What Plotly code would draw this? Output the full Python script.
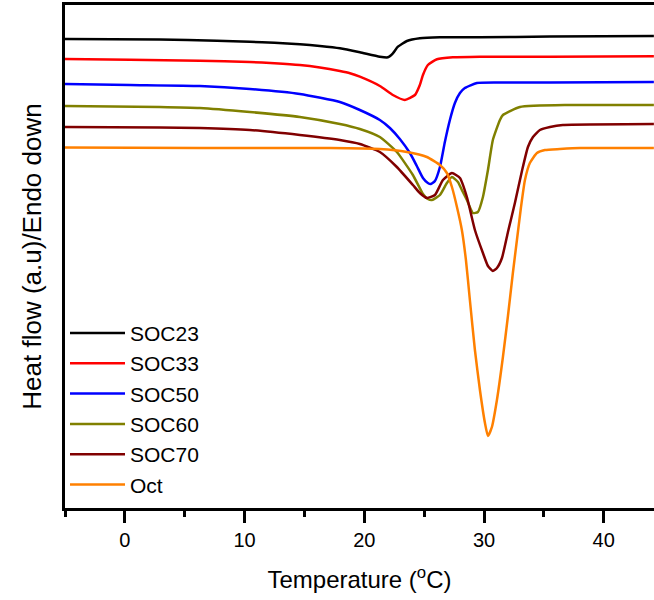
import plotly.graph_objects as go

# Temperature (°C) and heat flow (a.u.)
names = ["SOC23", "SOC33", "SOC50", "SOC60", "SOC70", "Oct"]
colors = ["#000000", "#FF0000", "#0000FF", "#808000", "#800000", "#FF8000"]

soc23_t = [-5.01, 2.92, 7.69, 10.44, 12.50, 14.62, 16.29, 17.96, 19.63, 21.30, 21.97, 22.39, 22.81, 23.56, 24.64, 26.32, 29.66, 35.51, 44.19]
soc23_h = [469, 468.5, 467.3, 466.3, 465.2, 463.8, 462.0, 459.7, 455.7, 451.3, 450.7, 454.7, 461.3, 467, 469.7, 470.7, 470.7, 471.5, 472]

soc33_t = [-5.01, 0.42, 6.27, 10.44, 12.50, 14.62, 16.29, 17.96, 18.80, 19.63, 21.30, 22.39, 23.39, 24.23, 24.64, 24.90, 25.31, 26.07, 27.40, 29.66, 35.51, 44.19]
soc33_h = [449, 448.3, 447.3, 446, 444.8, 443, 440.5, 437, 434.8, 431.3, 422, 413, 408, 413, 423, 433, 443, 448.7, 450.7, 451.3, 451.2, 451.7]

soc50_t = [-5.01, 0.42, 6.27, 10.44, 14.62, 17.96, 19.63, 21.30, 22.14, 22.97, 23.81, 24.39, 24.90, 25.31, 25.56, 25.90, 26.32, 26.73, 27.15, 27.57, 27.99, 28.40, 29.41, 31.33, 35.51, 44.19]
soc50_h = [424, 423, 422, 419, 414, 406, 398, 388, 380, 369, 355, 342, 330, 325, 324, 327, 341, 366, 388, 405, 415, 420, 425, 425.5, 425.5, 426]

soc60_t = [-5.01, 2.92, 6.27, 10.44, 14.62, 17.96, 19.63, 21.30, 22.72, 24.06, 24.90, 25.31, 25.65, 26.32, 26.90, 27.32, 27.82, 28.15, 28.57, 29.07, 29.49, 29.91, 30.33, 30.74, 31.33, 31.58, 33.00, 37.18, 44.19]
soc60_h = [402, 401, 400, 396, 391, 384, 379, 371, 356, 333, 314, 309, 308, 313, 325, 331, 326, 318, 308, 295, 296, 311, 338, 368, 388, 393, 401, 403, 403]

soc70_t = [-5.01, 2.92, 6.27, 10.44, 14.62, 17.96, 19.63, 21.30, 22.72, 24.06, 24.64, 25.23, 25.90, 26.57, 27.32, 27.99, 28.57, 29.24, 29.91, 30.33, 30.74, 31.08, 31.50, 32.00, 32.58, 33.17, 33.67, 34.09, 34.67, 35.51, 36.59, 44.19]
soc70_h = [381, 380.5, 380, 378, 373, 368, 364, 356, 341, 323, 315, 310, 313, 328, 335, 330, 311, 278, 255, 242, 237, 240, 250, 276, 305, 337, 361, 371, 378, 381, 383, 384]

oct_t = [-5.01, 6.27, 17.13, 21.30, 23.56, 25.23, 26.32, 26.90, 27.32, 27.74, 28.15, 28.49, 28.82, 29.24, 29.66, 30.08, 30.33, 30.66, 31.08, 31.58, 32.00, 32.41, 32.75, 33.08, 33.42, 33.83, 34.42, 35.09, 36.34, 38.01, 44.19]
oct_h = [360.5, 360, 360, 359, 356, 351, 343, 335, 321, 301, 278, 248, 208, 158, 118, 85, 72, 81, 108, 151, 192, 235, 268, 300, 328, 345, 355, 358, 359, 360, 360]

x_ticks = [0, 10, 20, 30, 40]

series = [
    (soc23_t, soc23_h), (soc33_t, soc33_h), (soc50_t, soc50_h),
    (soc60_t, soc60_h), (soc70_t, soc70_h), (oct_t, oct_h),
]

fig = go.Figure()
for name, color, (t, h) in zip(names, colors, series):
    fig.add_trace(go.Scatter(
        x=t, y=h, mode="lines", name=name,
        line=dict(color=color, width=2.5, shape="spline", smoothing=0.5),
    ))

font_family = "Liberation Sans, Arial, sans-serif"

fig.update_layout(
    width=654, height=600,
    margin=dict(l=65, r=0, t=5, b=92, autoexpand=False),
    paper_bgcolor="white", plot_bgcolor="white",
    font=dict(family=font_family, color="black"),
    showlegend=True,
    legend=dict(
        x=0.0, y=0.388, xanchor="left", yanchor="top",
        bgcolor="rgba(0,0,0,0)", borderwidth=0,
        font=dict(size=21, family=font_family),
        tracegroupgap=0, itemwidth=55,
    ),
    xaxis=dict(
        range=[-5, 44.2], tickmode="array", tickvals=x_ticks,
        ticktext=[str(v) for v in x_ticks],
        ticks="outside", ticklen=12, tickwidth=2.5, tickcolor="black",
        minor=dict(dtick=5, tick0=-5, ticks="outside", ticklen=6, tickwidth=2.5, tickcolor="black"),
        showline=True, linecolor="black", linewidth=2.5, mirror=True,
        showgrid=False, zeroline=False, automargin=False,
        tickfont=dict(size=20, family=font_family),
        title=dict(text="Temperature (<sup>o</sup>C)", font=dict(size=24, family=font_family), standoff=22),
    ),
    yaxis=dict(
        range=[0, 503], showticklabels=False, ticks="",
        showline=True, linecolor="black", linewidth=2.5, mirror=True,
        showgrid=False, zeroline=False, automargin=False,
        title=dict(text="Heat flow (a.u)/Endo down", font=dict(size=26, family=font_family), standoff=14),
    ),
)

fig.write_html("out.html", config={"displayModeBar": False},
               post_script="document.body.style.margin='0px';")
